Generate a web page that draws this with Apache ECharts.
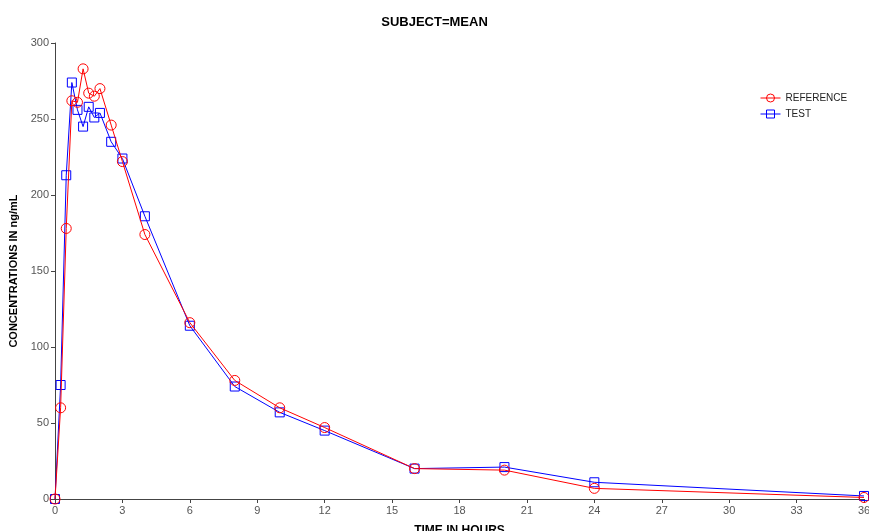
<!DOCTYPE html>
<html><head><meta charset="utf-8">
<script src="https://cdn.jsdelivr.net/npm/echarts@6/dist/echarts.min.js"></script>
<style>html,body{margin:0;padding:0;background:#fff}#c{width:869px;height:531px}</style>
</head><body><div id="c"></div>
<script>
const times = [0,0.25,0.5,0.75,1,1.25,1.5,1.75,2,2.5,3,4,6,8,10,12,16,20,24,36];
const reference = [0,60,178,262,261,283,267,265,270,246,222,174,116,78,60,47,20,19,7,1];
const test = [0,75,213,274,256,245,258,251,254,235,224,186,114,74,57,45,20,21,11,2];
const xTicks = [0,3,6,9,12,15,18,21,24,27,30,33,36];
const yTicks = [0,50,100,150,200,250,300];

const font = 'Liberation Sans, Arial, sans-serif';
const chart = echarts.init(document.getElementById('c'));
chart.setOption({
  animation: false,
  title: {text: 'SUBJECT=MEAN', left: 'center', top: 11,
    textStyle: {fontFamily: font, fontSize: 13, fontWeight: 'bold', color: '#000'}},
  legend: {left: 755, top: 88, orient: 'vertical', itemWidth: 20, itemHeight: 10, itemGap: 6,
    textStyle: {fontFamily: font, fontSize: 10, color: '#222'},
    lineStyle: {width: 1}, itemStyle: {borderWidth: 1},
    data: ['REFERENCE', 'TEST']},
  grid: {left: 55, right: 5, top: 43, bottom: 32, outerBoundsMode: 'none', containLabel: false},
  xAxis: {type: 'value', min: xTicks[0], max: xTicks[xTicks.length-1], interval: 3,
    name: 'TIME IN HOURS', nameLocation: 'middle', nameGap: 26,
    nameTextStyle: {fontFamily: font, fontSize: 12, fontWeight: 'bold', color: '#000'},
    axisLine: {lineStyle: {color: '#444', width: 1}}, axisTick: {show: true, length: 4, lineStyle:{color:'#444'}},
    axisLabel: {fontFamily: font, fontSize: 11, color: '#555', margin: 6}, splitLine: {show: false}},
  yAxis: {type: 'value', min: yTicks[0], max: yTicks[yTicks.length-1], interval: 50,
    name: 'CONCENTRATIONS IN ng/mL', nameLocation: 'middle', nameGap: 35,
    nameTextStyle: {fontFamily: font, fontSize: 11, fontWeight: 'bold', color: '#000'},
    axisLine: {show: true, lineStyle: {color: '#444', width: 1}}, axisTick: {show: true, length: 4, lineStyle:{color:'#444'}},
    axisLabel: {fontFamily: font, fontSize: 11, color: '#555', margin: 6}, splitLine: {show: false}},
  series: [
    {name: 'REFERENCE', type: 'line', data: times.map((t,i)=>[t, reference[i]]),
     symbol: 'circle', symbolSize: 10, showAllSymbol: true, color: '#ff0000',
     lineStyle: {color: '#ff0000', width: 1}, itemStyle: {color: 'rgba(255,255,255,0)', borderColor: '#ff0000', borderWidth: 1}, z: 3},
    {name: 'TEST', type: 'line', data: times.map((t,i)=>[t, test[i]]),
     symbol: 'rect', symbolSize: 9, showAllSymbol: true, color: '#0000ff',
     lineStyle: {color: '#0000ff', width: 1}, itemStyle: {color: 'rgba(255,255,255,0)', borderColor: '#0000ff', borderWidth: 1}, z: 2}
  ]
});
</script></body></html>
